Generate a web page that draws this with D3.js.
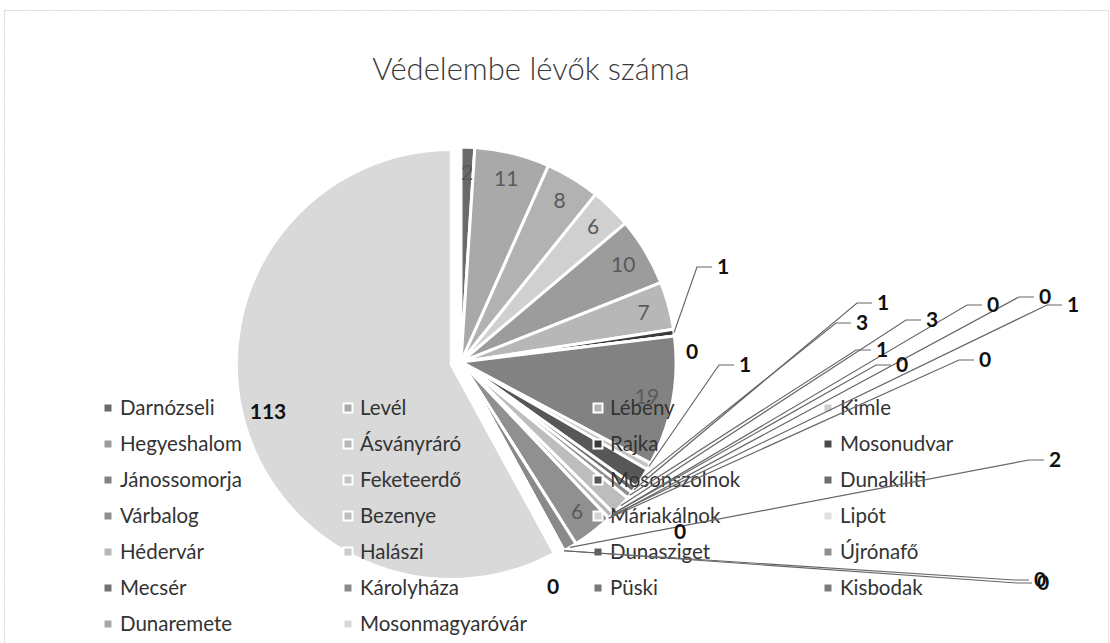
<!DOCTYPE html>
<html lang="hu">
<head>
<meta charset="UTF-8">
<title>Védelembe lévők száma</title>
<script src="https://d3js.org/d3.v7.min.js"></script>
<style>
  body { margin: 0; background: #fff; }
  text { font-family: Lato, "Open Sans", sans-serif; }
</style>
</head>
<body>
<div class="canvas"></div>
<script>
  // települések, a jelmagyarázat sorrendjében (soronként balról jobbra)
  const towns = [
    'Darnózseli', 'Levél', 'Lébény', 'Kimle',
    'Hegyeshalom', 'Ásványráró', 'Rajka', 'Mosonudvar',
    'Jánossomorja', 'Feketeerdő', 'Mosonszolnok', 'Dunakiliti',
    'Várbalog', 'Bezenye', 'Máriakálnok', 'Lipót',
    'Hédervár', 'Halászi', 'Dunasziget', 'Újrónafő',
    'Mecsér', 'Károlyháza', 'Püski', 'Kisbodak',
    'Dunaremete', 'Mosonmagyaróvár'
  ];
  const counts = [
    2, 11, 8, 6,
    10, 7, 1, 0,
    19, 1, 3, 1,
    1, 3, 0, 0,
    1, 0, 0, 6,
    0, 2, 0, 0,
    0, 113
  ];

  // szürke árnyalatok (szkennelt kép)
  const shades = [
    '#6a6a6a', '#a9a9a9', '#b2b2b2', '#d0d0d0',
    '#9c9c9c', '#b7b7b7', '#3a3a3a', '#4a4a4a',
    '#828282', '#c4c4c4', '#575757', '#6c6c6c',
    '#8e8e8e', '#bdbdbd', '#d3d3d3', '#e0e0e0',
    '#b8b8b8', '#cacaca', '#5e5e5e', '#909090',
    '#717171', '#8a8a8a', '#777777', '#7b7b7b',
    '#a8a8a8', '#d9d9d9'
  ];

  // kívül álló címkék helye (Excel "legjobb illesztés")
  const outside = {
    'Rajka': [723, 267, true],
    'Mosonudvar': [692, 352, false],
    'Feketeerdő': [745, 365, true],
    'Mosonszolnok': [862, 323, true],
    'Dunakiliti': [883, 303, true],
    'Várbalog': [882, 350, true],
    'Bezenye': [932, 320, true],
    'Máriakálnok': [993, 305, true],
    'Lipót': [902, 365, true],
    'Hédervár': [1073, 305, true],
    'Halászi': [1045, 297, true],
    'Dunasziget': [985, 360, true],
    'Mecsér': [680, 532, false],
    'Károlyháza': [1055, 460, true],
    'Püski': [1040, 580, true],
    'Kisbodak': [1043, 583, true],
    'Dunaremete': [553, 587, false]
  };
  const explode = { 'Mosonmagyaróvár': 10 };

  const W = 1110, H = 643;
  const cx = 461, cy = 362, R = 215;

  const svg = d3.select('.canvas').append('svg')
    .attr('width', W).attr('height', H);

  // halvány keret
  svg.append('rect')
    .attr('x', 4.5).attr('y', 10.5).attr('width', W - 6).attr('height', H)
    .attr('fill', 'none').attr('stroke', '#d4d4d4').attr('stroke-dasharray', '2,1');

  svg.append('text')
    .attr('x', 531).attr('y', 80)
    .attr('text-anchor', 'middle')
    .attr('font-size', 31).attr('font-weight', 300)
    .attr('fill', '#3a3a3a')
    .text('Védelembe lévők száma');

  const rows = towns.map((t, i) => ({ name: t, v: counts[i], color: shades[i] }));

  const pie = d3.pie().value(d => d.v).sort(null);
  const arcs = pie(rows);
  const arc = d3.arc().innerRadius(0).outerRadius(R);
  const inArc = d3.arc().innerRadius(R * 0.88).outerRadius(R * 0.88);
  const edgeArc = d3.arc().innerRadius(R).outerRadius(R);

  const g = svg.append('g').attr('transform', `translate(${cx}, ${cy})`);

  const shift = d => {
    const e = explode[d.data.name] || 0;
    const a = (d.startAngle + d.endAngle) / 2;
    return [Math.sin(a) * e, -Math.cos(a) * e];
  };

  g.selectAll('path.slice')
    .data(arcs)
    .enter()
    .append('path')
    .attr('class', 'slice')
    .attr('d', arc)
    .attr('transform', d => `translate(${shift(d)})`)
    .attr('fill', d => d.data.color)
    .attr('stroke', '#fff')
    .attr('stroke-width', 3)
    .attr('stroke-linejoin', 'round');

  // belső címkék
  g.selectAll('text.inlab')
    .data(arcs.filter(d => !outside[d.data.name]))
    .enter()
    .append('text')
    .attr('class', 'inlab')
    .attr('transform', d => {
      const c = inArc.centroid(d), s = shift(d);
      return `translate(${c[0] + s[0]}, ${c[1] + s[1]})`;
    })
    .attr('text-anchor', 'middle')
    .attr('dy', '0.35em')
    .attr('font-size', 21)
    .attr('font-weight', d => d.data.v > 100 ? 700 : 400)
    .attr('fill', d => d.data.v > 100 ? '#111' : '#5a5a5a')
    .text(d => d.data.v);

  // jelmagyarázat (a kör fölé rajzolva, mint az eredetin)
  const colX = [108, 348, 598, 828];
  const legend = svg.append('g');
  const items = legend.selectAll('g')
    .data(rows)
    .enter()
    .append('g')
    .attr('transform', (d, i) => `translate(${colX[i % 4]}, ${408 + Math.floor(i / 4) * 36})`);
  items.append('rect')
    .attr('x', -4.5).attr('y', -4.5).attr('width', 9).attr('height', 9)
    .attr('fill', d => d.color)
    .attr('stroke', '#fff').attr('stroke-width', 2);
  items.append('text')
    .attr('x', 12).attr('dy', '0.35em')
    .attr('font-size', 20.5)
    .attr('fill', '#333')
    .text(d => d.name);

  // vezető vonalak és külső címkék
  const outArcs = arcs.filter(d => outside[d.data.name]);
  svg.append('g').selectAll('polyline')
    .data(outArcs.filter(d => outside[d.data.name][2]))
    .enter()
    .append('polyline')
    .attr('points', d => {
      const e = edgeArc.centroid(d);
      const [lx, ly] = outside[d.data.name];
      return [[cx + e[0], cy + e[1]], [lx - 26, ly], [lx - 11, ly]].map(p => p.join(',')).join(' ');
    })
    .attr('fill', 'none')
    .attr('stroke', '#666')
    .attr('stroke-width', 1.2);

  svg.append('g').selectAll('text')
    .data(outArcs)
    .enter()
    .append('text')
    .attr('x', d => outside[d.data.name][0])
    .attr('y', d => outside[d.data.name][1])
    .attr('text-anchor', 'middle')
    .attr('dy', '0.35em')
    .attr('font-size', 21)
    .attr('font-weight', 700)
    .attr('fill', '#111')
    .text(d => d.data.v);
</script>
</body>
</html>
